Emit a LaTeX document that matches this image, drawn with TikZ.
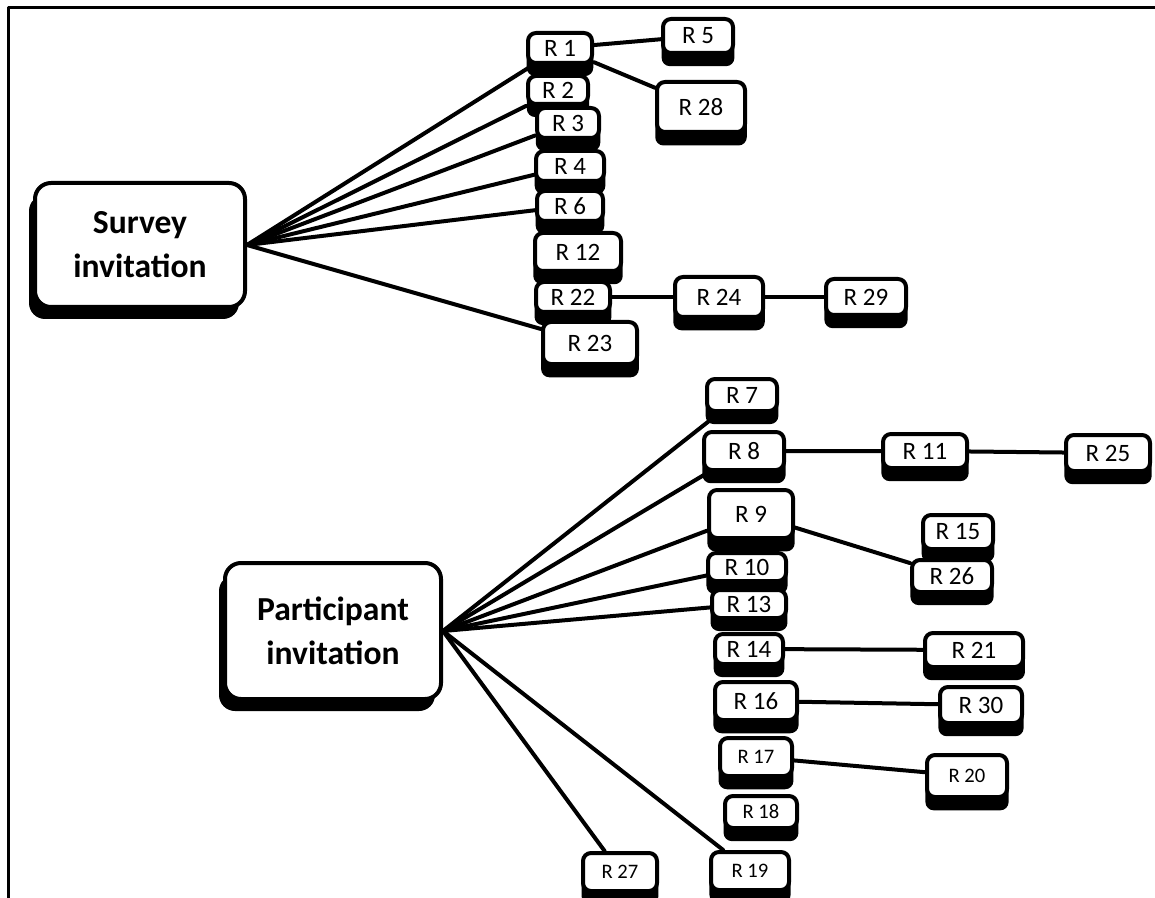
\documentclass[tikz,border=0pt]{standalone}
\usepackage{fontspec}
\setmainfont{Carlito}
\usetikzlibrary{shadows}

\begin{document}
\begin{tikzpicture}
  [line cap=round,line join=round,x=0.5pt,y=-0.5pt,
   rbox/.style={draw,line width=2pt,rounded corners=4pt,fill=white,inner sep=0pt,
     minimum width=35pt,minimum height=17pt,font=\fontsize{12.5}{15}\selectfont,
     drop shadow={shadow scale=1.04,shadow xshift=0pt,shadow yshift=-6pt,fill=black,opacity=1}},
   small/.style={font=\fontsize{10.3}{12}\selectfont},
   topic/.style={draw,line width=2pt,rounded corners=8pt,fill=white,align=center,inner sep=0pt,
     font=\bfseries\fontsize{16.8}{22}\selectfont,
     drop shadow={shadow xshift=-3pt,shadow yshift=-6pt,fill=black,opacity=1}},
   link/.style={line width=2pt}]
  \useasboundingbox (0,0) rectangle (1155,898);
  \draw [line width=1.5pt] (8,898) -- (8,8) -- (1155,8);

  % main topics
  \node [topic,minimum width=105pt,minimum height=62pt] (survey) at (140,245) {Survey\\invitation};
  \node [topic,minimum width=108pt,minimum height=68pt] (participant) at (333,631) {Participant\\invitation};

  % survey branch
  \node [rbox,minimum width=32pt,minimum height=15pt] (r1) at (560,48) {R 1};
  \node [rbox,minimum width=30pt,minimum height=14pt] (r2) at (558,90) {R 2};
  \node [rbox,minimum width=31pt,minimum height=15pt] (r3) at (568,123) {R 3};
  \node [rbox,minimum width=34pt,minimum height=15pt] (r4) at (570,166) {R 4};
  \node [rbox,minimum width=33pt,minimum height=15pt] (r6) at (570,206) {R 6};
  \node [rbox,minimum width=43pt,minimum height=19pt] (r12) at (578,252) {R 12};
  \node [rbox,minimum width=37pt,minimum height=15pt] (r22) at (573,297) {R 22};
  \node [rbox,minimum width=47pt,minimum height=21pt] (r23) at (590,343) {R 23};
  \node [rbox,minimum width=35pt,minimum height=17pt] (r5) at (698,36) {R 5};
  \node [rbox,minimum width=44pt,minimum height=25pt] (r28) at (701,107) {R 28};
  \node [rbox,minimum width=44pt,minimum height=20pt] (r24) at (719,297) {R 24};
  \node [rbox,minimum width=40pt,minimum height=18pt] (r29) at (866,297) {R 29};

  % participant branch
  \node [rbox,minimum width=35pt,minimum height=16pt] (r7) at (742,395) {R 7};
  \node [rbox,minimum width=40pt,minimum height=19pt] (r8) at (744,451) {R 8};
  \node [rbox,minimum width=42pt,minimum height=24pt] (r9) at (751,514) {R 9};
  \node [rbox,minimum width=39pt,minimum height=14pt] (r10) at (747,567) {R 10};
  \node [rbox,minimum width=37pt,minimum height=14pt] (r13) at (749,604) {R 13};
  \node [rbox,minimum width=34pt,minimum height=15pt] (r14) at (749,649) {R 14};
  \node [rbox,minimum width=41pt,minimum height=19pt] (r16) at (756,701) {R 16};
  \node [rbox,small,minimum width=36pt,minimum height=19pt] (r17) at (756,757) {R 17};
  \node [rbox,small,minimum width=36pt,minimum height=16pt] (r18) at (761,812) {R 18};
  \node [rbox,small,minimum width=39pt,minimum height=19pt] (r19) at (750,871) {R 19};
  \node [rbox,small,minimum width=37pt,minimum height=19pt] (r27) at (620,872) {R 27};
  \node [rbox,minimum width=42pt,minimum height=17pt] (r11) at (925,451) {R 11};
  \node [rbox,minimum width=42pt,minimum height=18pt] (r25) at (1108,453) {R 25};
  \node [rbox,minimum width=35pt,minimum height=17pt] (r15) at (958,532) {R 15};
  \node [rbox,minimum width=40pt,minimum height=16pt] (r26) at (952,576) {R 26};
  \node [rbox,minimum width=49pt,minimum height=17pt] (r21) at (974,650) {R 21};
  \node [rbox,minimum width=41pt,minimum height=18pt] (r30) at (981,705) {R 30};
  \node [rbox,small,minimum width=40pt,minimum height=21pt] (r20) at (967,776) {R 20};

  % connectors
  \foreach \c in {r1,r2,r3,r4,r6,r23}
    \draw [link] (survey.east) -- (\c);
  \foreach \c in {r7,r8,r9,r10,r13,r27,r19}
    \draw [link] (participant.east) -- (\c);
  \draw [link] (r1) -- (r5);
  \draw [link] (r1) -- (r28);
  \draw [link] (r22) -- (r24) -- (r29);
  \draw [link] (r8) -- (r11) -- (r25);
  \draw [link] (r9) -- (r26);
  \draw [link] (r14) -- (r21);
  \draw [link] (r16) -- (r30);
  \draw [link] (r17) -- (r20);
\end{tikzpicture}
\end{document}
